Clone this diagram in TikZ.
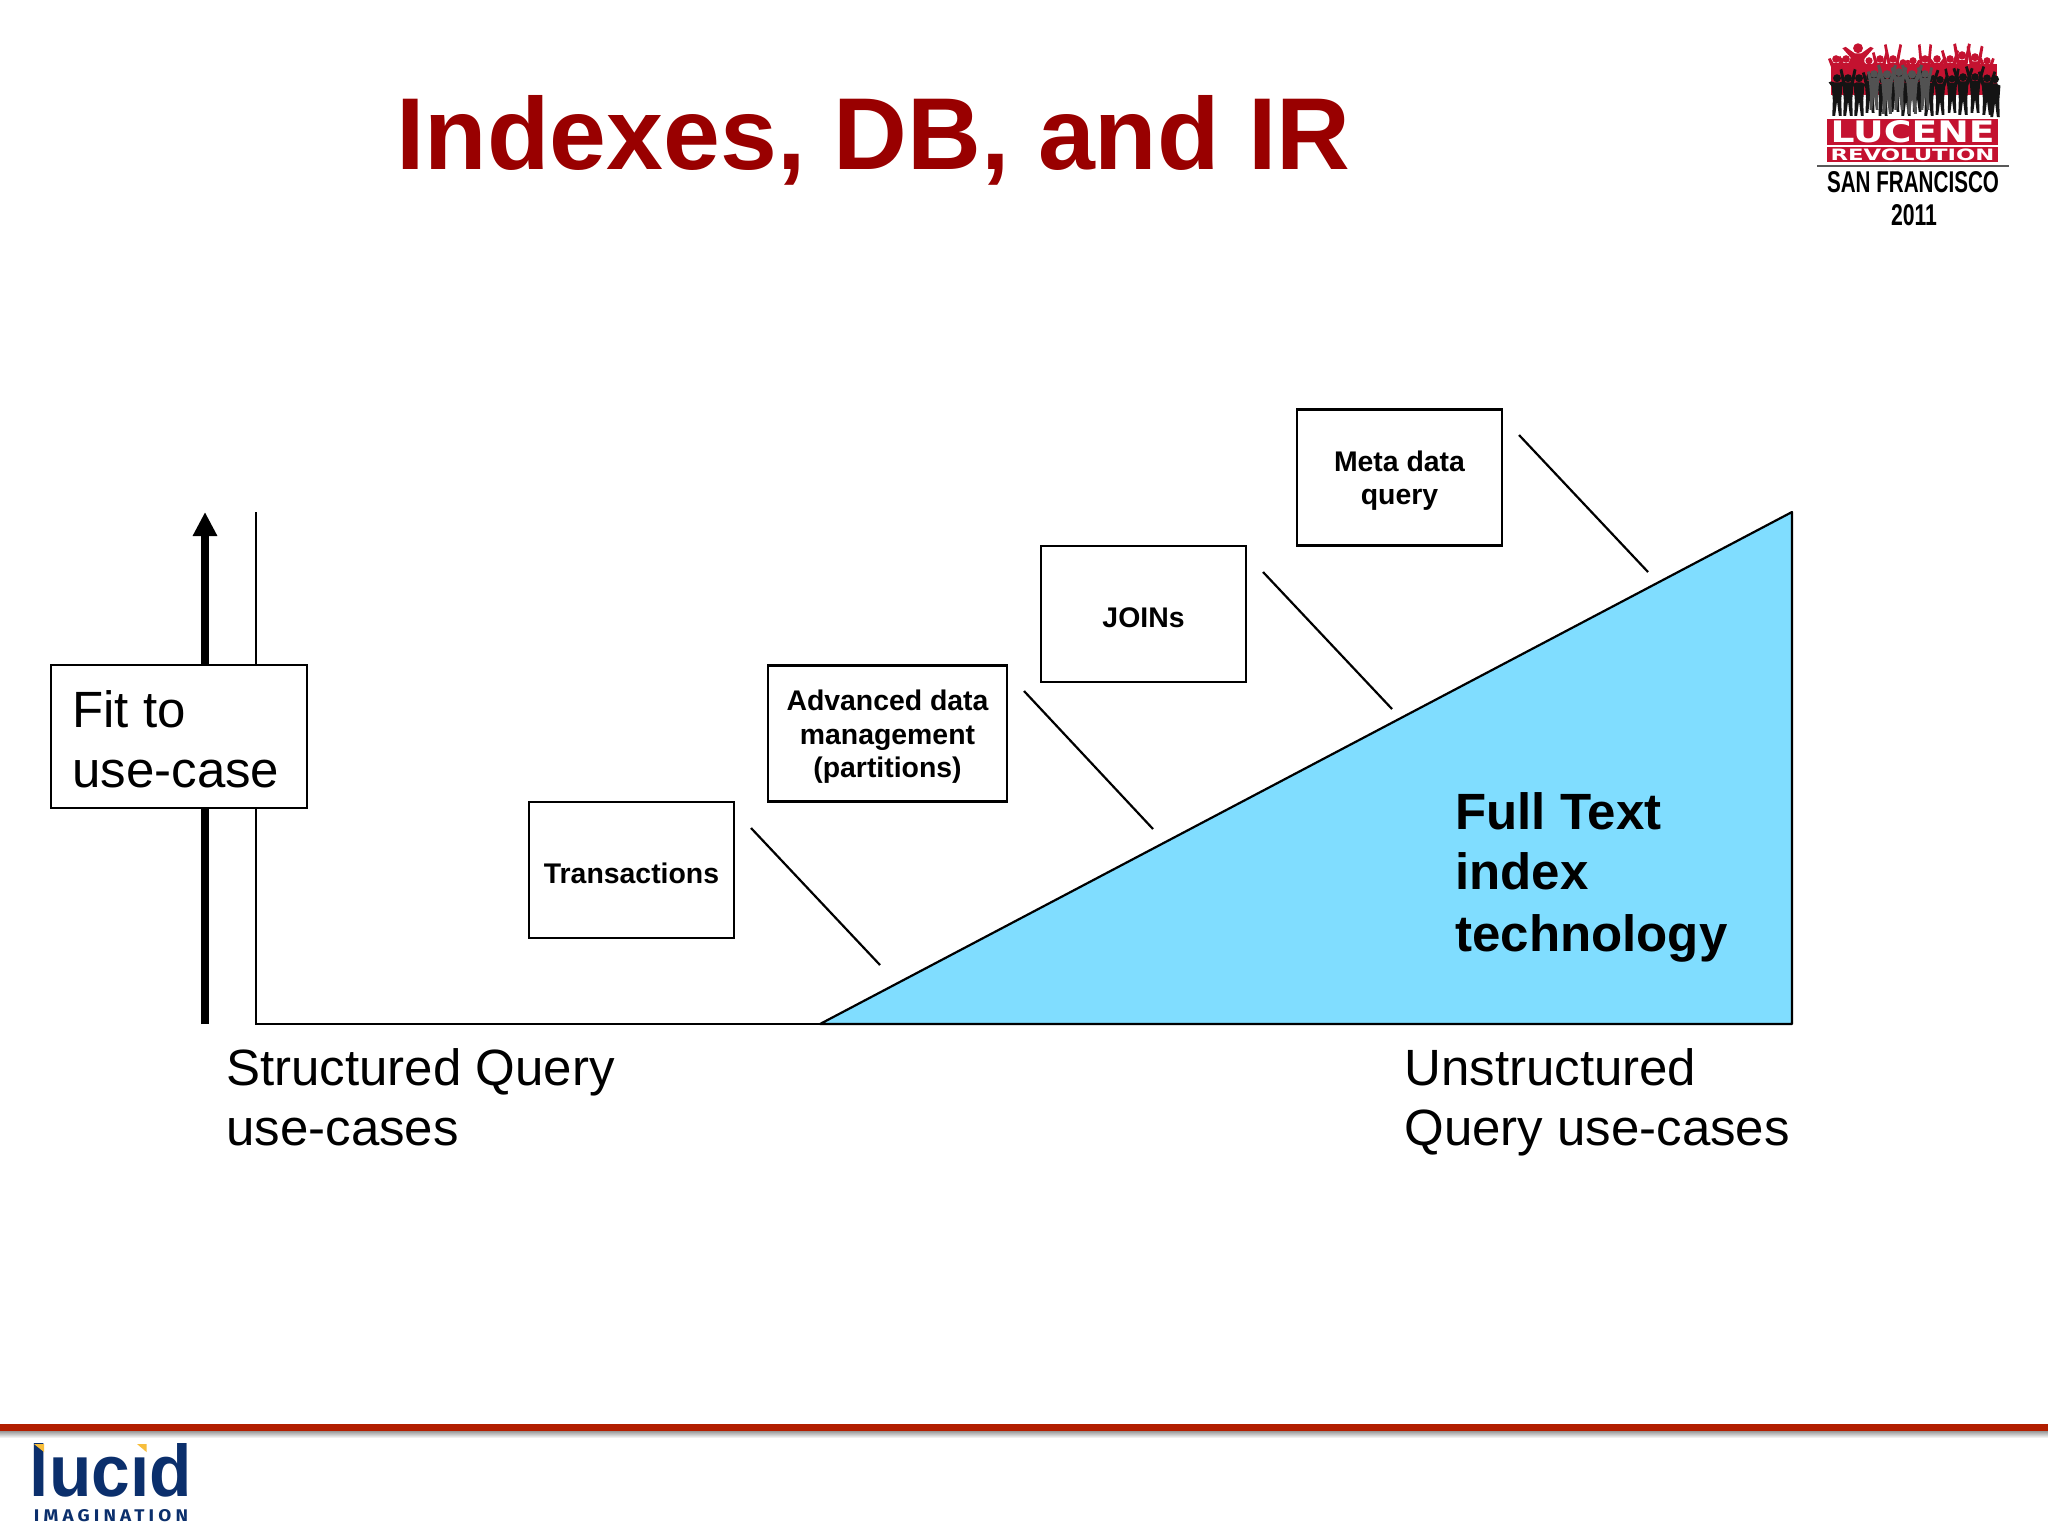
\documentclass[tikz,border=0pt]{standalone}
\usepackage{fontspec}
\usepackage{graphicx}
\setmainfont{Liberation Sans}
\newfontfamily\firaspaced[LetterSpace=22]{Fira Sans}
\newfontfamily\widefont{DejaVu Sans}
\usetikzlibrary{arrows.meta}
\definecolor{titlered}{HTML}{990000}
\definecolor{skyfill}{HTML}{80DDFF}
\definecolor{rulered}{HTML}{B21E00}
\definecolor{lucidnavy}{HTML}{0B2F6C}
\definecolor{lucidgold}{HTML}{F7BE3C}
\definecolor{crowdred}{HTML}{C41230}
\newcommand{\crowdman}[5]{%
  \begin{scope}[shift={(#1)},scale=#2]
    \fill[#3] (-4.5,0)--(-4,-15)--(-5,-28)--(#4,#5)--(#4+2.5,#5-1)--(-2.5,-32)--(2.5,-32)--(-#4-2.5,#5-1)--(-#4,#5)--(5,-28)--(4,-15)--(4.5,0)--(1.8,0)--(0,-14)--(-1.8,0)--cycle;
    \fill[#3] (0,-36) circle (3.8);
  \end{scope}}
\newcommand{\lift}{\rule{0pt}{13.5pt}}
\tikzset{
  labelbox/.style={draw=black,line width=1.25pt,fill=white,minimum width=102.5pt,minimum height=68pt,inner sep=0pt,align=center,font=\fontsize{14.2}{16.9}\selectfont\bfseries},
  bigtext/.style={anchor=base west,inner sep=0pt,font=\fontsize{25.5}{30}\selectfont},
  bigbold/.style={bigtext,font=\fontsize{25.5}{30}\selectfont\bfseries},
  conn/.style={black,line width=1.1pt},
  logotext/.style={inner sep=0pt,anchor=center}
}
\begin{document}
\begin{tikzpicture}[x=0.5pt,y=-0.5pt]
\useasboundingbox (0,0) rectangle (2048,1536);
\fill[white] (0,0) rectangle (2048,1536);

% title
\node[anchor=base west,inner sep=0pt,text=titlered,font=\fontsize{51.1}{60}\selectfont\bfseries] (title) at (396,169) {Indexes, DB, and IR};

% thick arrow and axes
\coordinate (arrowfoot) at (205,1024);
\coordinate (arrowtop) at (205,512);
\draw[line width=4pt,-{Triangle[length=12pt,width=11.5pt]}] (arrowfoot) -- (arrowtop);
\coordinate (axistop) at (256,512);
\coordinate (axisorigin) at (256,1024);
\coordinate (wedgestart) at (820,1024);
\coordinate (wedgecorner) at (1792,1024);
\coordinate (wedgetop) at (1792,512);
\draw[conn] (axistop) -- (axisorigin) -- (wedgestart);
\draw[conn,fill=skyfill,line join=round] (wedgestart) -- (wedgecorner) -- (wedgetop) -- cycle;

% boxes
\node[labelbox,minimum width=128pt,minimum height=71.5pt] (fit) at (179,736.5) {};
\node[bigtext] (fittext) at (72,727) {Fit to};
\node[bigtext] (fittext2) at (72,787) {use-case};
\node[labelbox] (transactions) at (631.5,870) {\lift Transactions};
\node[labelbox,minimum width=119.5pt] (advanced) at (887.5,733.5) {\lift Advanced data\\management\\(partitions)};
\node[labelbox] (joins) at (1143.5,614) {\lift JOINs};
\node[labelbox] (meta) at (1399.5,477.5) {\lift Meta data\\query};

% connector strokes
\coordinate (t1) at (751,828); \coordinate (t2) at (880,965);
\coordinate (a1) at (1024,691); \coordinate (a2) at (1153,829);
\coordinate (j1) at (1263,572); \coordinate (j2) at (1392,709);
\coordinate (m1) at (1519,435); \coordinate (m2) at (1648,572);
\draw[conn] (t1) -- (t2);
\draw[conn] (a1) -- (a2);
\draw[conn] (j1) -- (j2);
\draw[conn] (m1) -- (m2);

% text
\node[bigbold] (ft1) at (1455,829) {Full Text};
\node[bigbold] (ft2) at (1455,889) {index};
\node[bigbold] (ft3) at (1455,951) {technology};
\node[bigtext] (sq1) at (226,1085) {Structured Query};
\node[bigtext] (sq2) at (226,1145) {use-cases};
\node[bigtext] (uq1) at (1404,1085) {Unstructured};
\node[bigtext] (uq2) at (1404,1145) {Query use-cases};

% footer rule
\shade[top color=black!40,bottom color=white] (0,1431) rectangle (2048,1438);
\fill[rulered] (0,1424) rectangle (2048,1431);

% lucid logo
\node[logotext,text=lucidnavy] (lucid) at (111,1470.5) {\resizebox{81pt}{26.5pt}{\bfseries lucid}};
\fill[white] (124,1442) rectangle (156,1456);
\fill[lucidgold] (34,1444) -- (44,1444) -- (44,1452) -- cycle;
\fill[lucidgold] (137,1444) -- (146.5,1444) -- (146.5,1452) -- cycle;
\node[logotext,text=lucidnavy] (imagination) at (111,1516) {\resizebox{77pt}{6pt}{\firaspaced\bfseries IMAGINATION}};

% Lucene Revolution logo: crowd
\fill[crowdred] (1831,64) rectangle (1997,95);
\foreach \x/\h/\ax/\ay in {1836/1.0/-8/-36,1846/1.0/-8/-38,1858/1.3/-12/-36,1869/.95/-8/-34,1880/1.0/-8/-42,1893/1.0/-9/-50,1903/.9/-8/-38,1913/.95/-8/-36,1925/1.0/-7/-50,1937/1.0/-9/-36,1950/1.0/-9/-44,1962/1.1/-8/-46,1975/1.05/-8/-46,1987/.95/-8/-38}
  \crowdman{\x,95}{\h}{crowdred}{\ax}{\ay};
\foreach \x/\y/\h/\ax/\ay in {1837/116/1.05/-8/-32,1848/116/1.05/-8/-44,1859/116/1.05/-7/-30,1870/113/1.0/-8/-40,1883/116/1.0/-9/-36,1895/112/.95/-8/-40,1906/116/1.05/-8/-34,1917/112/.95/-8/-42,1929/116/1.03/-10/-44,1940/115/.98/-9/-40,1952/113/.95/-8/-46,1963/115/1.05/-10/-44,1975/113/1.0/-10/-46,1987/115/1.02/-9/-42,1995/117/1.05/-5/-30}
  \crowdman{\x,\y}{\h}{black!92}{\ax}{\ay};
\foreach \x/\y/\h/\ax/\ay in {1874/110/1.0/-7/-38,1887/114/1.1/-9/-44,1899/110/1.05/-8/-40,1912/114/1.1/-10/-44,1925/110/1.0/-8/-42}
  \crowdman{\x,\y}{\h}{black!68}{\ax}{\ay};

% Lucene Revolution logo: lettering
\fill[crowdred] (1827,119) rectangle (1998,145);
\node[logotext,text=white] (lucene) at (1912.5,132) {\resizebox{82pt}{11pt}{\widefont\bfseries LUCENE}};
\fill[crowdred] (1827,147) rectangle (1998,162);
\node[logotext,text=white] (revolution) at (1912.5,154.5) {\resizebox{82pt}{5.8pt}{\widefont\bfseries REVOLUTION}};
\draw[black!65,line width=0.6pt] (1817,166) -- (2009,166);
\node[logotext] (sanfran) at (1913,182.5) {\resizebox{86pt}{10.5pt}{\bfseries SAN FRANCISCO}};
\node[logotext] (year) at (1914,215.5) {\resizebox{23pt}{10.5pt}{\bfseries 2011}};
\end{tikzpicture}
\end{document}
